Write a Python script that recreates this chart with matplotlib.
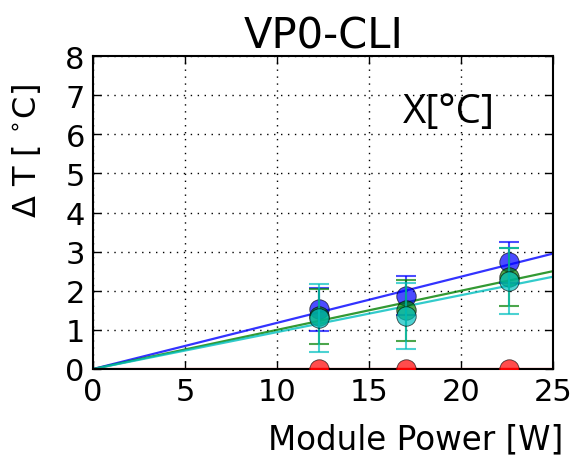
import numpy as np
import matplotlib
matplotlib.use("Agg")
import matplotlib.pyplot as plt

# Module power settings [W]
power = np.array([12.3, 17.0, 22.6])

# Temperature rise per sensor [deg C] and its uncertainty
dt_blue = np.array([1.53, 1.87, 2.73])
err_blue = np.array([0.55, 0.50, 0.52])
dt_green = np.array([1.35, 1.50, 2.35])
err_green = np.array([0.70, 0.78, 0.74])
dt_cyan = np.array([1.30, 1.35, 2.25])
err_cyan = np.array([0.87, 0.85, 0.85])
dt_red = np.array([0.0, 0.0, 0.0])
err_red = np.array([0.0, 0.0, 0.0])

series = [
    (dt_blue, err_blue, "b"),
    (dt_green, err_green, "g"),
    (dt_cyan, err_cyan, "c"),
    (dt_red, err_red, "r"),
]

plt.rcParams["font.family"] = "DejaVu Sans"
plt.rcParams["mathtext.fontset"] = "dejavusans"

fig = plt.figure(figsize=(5.75, 4.56), dpi=100)
ax = fig.add_axes([0.162, 0.1886, 0.80, 0.686])

xfit = np.linspace(0, 25, 50)
for y, e, col in series:
    ax.errorbar(power, y, yerr=e, fmt="none", ecolor=col, alpha=0.7,
                capsize=7, elinewidth=1.5, capthick=1.5, zorder=3)
    ax.scatter(power, y, s=14 ** 2, color=col, alpha=0.7, edgecolors="k",
               linewidths=0.6, zorder=3, clip_on=True)
    # least-squares fit through the origin
    slope = np.sum(power * y) / np.sum(power ** 2)
    ax.plot(xfit, slope * xfit, color=col, lw=1.6, alpha=0.8, zorder=2)

ax.set_xlim(0, 25)
ax.set_ylim(0, 8)
ax.set_xticks(np.arange(0, 26, 5))
ax.set_yticks(np.arange(0, 9, 1))
ax.grid(True, color="k", linestyle=(0, (1, 4)), linewidth=1.0)
ax.tick_params(direction="in", length=6, width=1, top=True, right=True,
               labelsize=22, pad=6)
for s in ax.spines.values():
    s.set_linewidth(1.5)

ax.set_title("VP0-CLI", fontsize=30, pad=6)
ax.set_xlabel("Module Power [W]", fontsize=23.5, ha="right")
ax.xaxis.set_label_coords(1.022, -0.17)
ax.set_ylabel(r"$\Delta$ T [ $^{\circ}$C]", fontsize=23)
ax.yaxis.set_label_coords(-0.11, 0.70)
ax.text(0.674, 0.79, "X[°C]", transform=ax.transAxes, fontsize=29,
        family="Open Sans", va="baseline")

fig.savefig("out.png", dpi=100)
